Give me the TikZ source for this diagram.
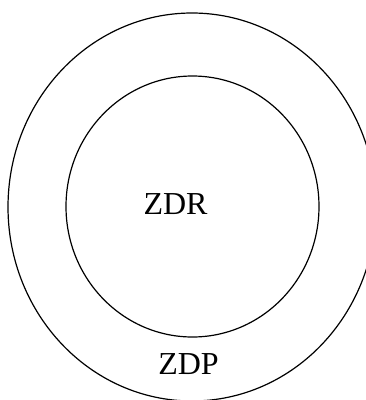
\documentclass[tikz,border=0pt]{standalone}
\usepackage{fontspec}
\setmainfont{Liberation Serif}
\begin{document}
\begin{tikzpicture}[x=1pt,y=-1pt,
  ring/.style={draw=black,line width=1.2pt},
  lbl/.style={font=\fontsize{32}{36}\selectfont,inner sep=0pt,text=black}]
\useasboundingbox (0,0) rectangle (366,400);
\clip (0,0) rectangle (366,400);
\fill[white] (0,0) rectangle (366,400);
\draw[ring] (192,207) ellipse [x radius=184, y radius=194];
\draw[ring] (192.5,206.5) ellipse [x radius=126.5, y radius=130.5];
\node[lbl] (zdr) at (175.5,204) {ZDR};
\node[lbl] (zdp) at (188.5,364.5) {ZDP};
\end{tikzpicture}
\end{document}
